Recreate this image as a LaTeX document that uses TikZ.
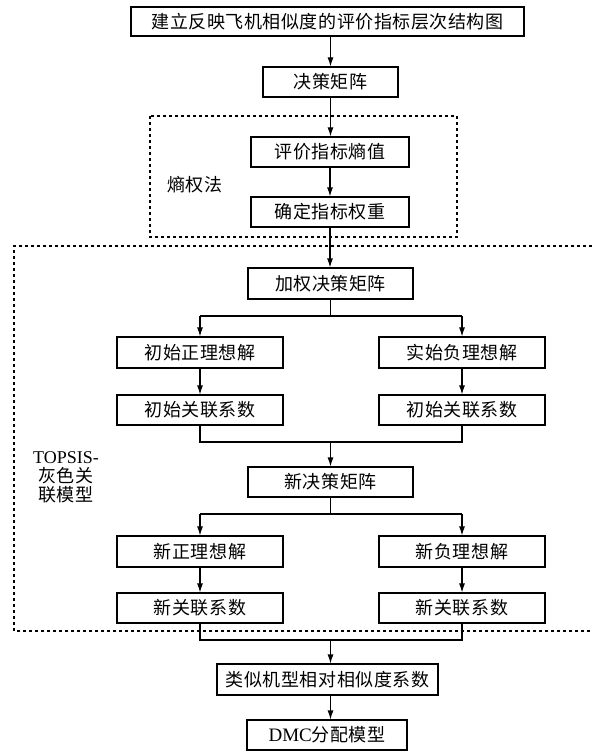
\documentclass[tikz,border=0pt]{standalone}
\usepackage{graphicx}
\usepackage{fontspec}
\setmainfont{Liberation Serif}
\newfontfamily\cjk[LetterSpace=3]{Noto Sans CJK SC}
\newfontfamily\lat{Liberation Serif}
\usetikzlibrary{arrows.meta}
\begin{document}
\begin{tikzpicture}[x=1pt,y=-1pt,
  box/.style={draw, line width=1.1pt, inner sep=0pt, minimum height=30pt,
    font=\fontsize{18}{20}\selectfont\cjk},
  arr/.style={line width=1.1pt, -{Latex[length=9pt,width=6pt]}},
  ln/.style={line width=1.1pt},
  grp/.style={line width=1.1pt, dash pattern=on 3pt off 3pt},
  lbl/.style={inner sep=0pt, font=\fontsize{18}{20}\selectfont\cjk}]
\useasboundingbox (0,0) rectangle (592,754);

% group frames
\draw[grp] (150,116) rectangle (457,237);
\draw[grp] (592,246) -- (14,246) -- (14,631) -- (592,631);

% nodes
\node[box, minimum width=393pt, minimum height=29pt] (top) at (327.5,21.5) {\resizebox{352pt}{!}{建立反映飞机相似度的评价指标层次结构图}};
\node[box, minimum width=135pt] (jc) at (330.5,82) {决策矩阵};
\node[box, minimum width=158pt] (py) at (330,152) {评价指标熵值};
\node[box, minimum width=158pt] (qd) at (330,212) {确定指标权重};
\node[box, minimum width=165pt, minimum height=31pt] (jq) at (330.5,283.5) {加权决策矩阵};
\node[box, minimum width=166pt, minimum height=31pt] (zl) at (200,352.5) {初始正理想解};
\node[box, minimum width=166pt, minimum height=31pt] (fl) at (462,352.5) {实始负理想解};
\node[box, minimum width=166pt] (zx) at (200,410) {初始关联系数};
\node[box, minimum width=166pt] (fx) at (462,410) {初始关联系数};
\node[box, minimum width=165pt] (xj) at (330.5,482) {新决策矩阵};
\node[box, minimum width=166pt, minimum height=31pt] (xz) at (200,551.5) {新正理想解};
\node[box, minimum width=166pt, minimum height=31pt] (xf) at (462,551.5) {新负理想解};
\node[box, minimum width=166pt] (xzx) at (200,608) {新关联系数};
\node[box, minimum width=166pt] (xfx) at (462,608) {新关联系数};
\node[box, minimum width=221pt, minimum height=31pt] (lx) at (327.5,679.5) {类似机型相对相似度系数};
\node[box, minimum width=160pt] (dmc) at (327,735) {{\lat\fontsize{19}{20}\selectfont DMC}分配模型};

% labels
\node[lbl] (sq) at (195,185) {熵权法};
\node[lbl, align=center, font=\fontsize{18}{19}\selectfont\cjk] (tp) at (66,477) {{\lat\fontsize{18}{19}\selectfont TOPSIS-}\\灰色关\\联模型};

% branch coordinates
\coordinate (b1) at (330.5,316);
\coordinate (m1) at (330.5,442);
\coordinate (b2) at (330.5,514);
\coordinate (m2) at (330.5,640);

% connectors
\draw[arr] (jc.north |- top.south) -- (jc.north);
\draw[arr] (jc.south) -- (jc.south |- py.north);
\draw[arr] (py.south) -- (qd.north);
\draw[arr] (qd.south) -- (qd.south |- jq.north);

\draw[ln] (jq.south) -- (b1);
\draw[ln] (zl.north |- b1) -- (fl.north |- b1);
\draw[arr] (zl.north |- b1) -- (zl.north);
\draw[arr] (fl.north |- b1) -- (fl.north);
\draw[arr] (zl.south) -- (zx.north);
\draw[arr] (fl.south) -- (fx.north);
\draw[ln] (zx.south) -- (zx.south |- m1) -- (fx.south |- m1) -- (fx.south);
\draw[arr] (m1) -- (m1 |- xj.north);

\draw[ln] (xj.south) -- (b2);
\draw[ln] (xz.north |- b2) -- (xf.north |- b2);
\draw[arr] (xz.north |- b2) -- (xz.north);
\draw[arr] (xf.north |- b2) -- (xf.north);
\draw[arr] (xz.south) -- (xzx.north);
\draw[arr] (xf.south) -- (xfx.north);
\draw[ln] (xzx.south) -- (xzx.south |- m2) -- (xfx.south |- m2) -- (xfx.south);
\draw[arr] (m2) -- (m2 |- lx.north);
\draw[arr] (m2 |- lx.south) -- (m2 |- dmc.north);
\end{tikzpicture}
\end{document}
